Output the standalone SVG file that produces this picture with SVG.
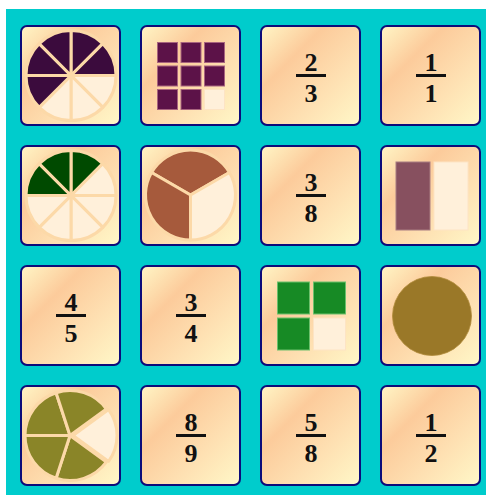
<svg xmlns="http://www.w3.org/2000/svg" width="486" height="495" viewBox="0 0 486 495">
<defs>
<linearGradient id="cardg" x1="0" y1="0" x2="1" y2="1">
<stop offset="0" stop-color="#fff6c6"/>
<stop offset="0.32" stop-color="#fccb9b"/>
<stop offset="0.65" stop-color="#fee0b2"/>
<stop offset="1" stop-color="#fff8c8"/>
</linearGradient>
<style>
.card{fill:url(#cardg);stroke:#0c0c7a;stroke-width:2}
.num{font-family:"Liberation Serif","Times New Roman",serif;font-weight:bold;font-size:26px;fill:#111;text-anchor:middle}
.bar{fill:#111}
.sec{stroke:#fcd9a8;stroke-width:3;stroke-linejoin:round}
.lt{fill:#fff0da}
.pu{fill:#3b0b3d}
.gr{fill:#004a00}
.br{fill:#a65a3c}
.ol{fill:#8a8528}
.sq{fill:#5c1248;stroke:#a8647e;stroke-width:1}
.gsq{fill:#178a25;stroke:#6cc06c;stroke-width:1}
.lsq{fill:#fff0da;stroke:#fde4c4;stroke-width:1}
</style>
</defs>
<rect x="0" y="0" width="486" height="495" fill="#ffffff"/>
<rect x="6" y="9" width="480" height="486" fill="#00cccc"/>

<g id="card-1-1">
<rect class="card" x="21" y="26" width="99" height="99" rx="6"/>
<g transform="translate(71,75.5)">
<path class="sec pu" d="M0 0L0 -45A45 45 0 0 1 31.82 -31.82Z"/>
<path class="sec pu" d="M0 0L31.82 -31.82A45 45 0 0 1 45 0Z"/>
<path class="sec lt" d="M0 0L45 0A45 45 0 0 1 31.82 31.82Z"/>
<path class="sec lt" d="M0 0L31.82 31.82A45 45 0 0 1 0 45Z"/>
<path class="sec lt" d="M0 0L0 45A45 45 0 0 1 -31.82 31.82Z"/>
<path class="sec pu" d="M0 0L-31.82 31.82A45 45 0 0 1 -45 0Z"/>
<path class="sec pu" d="M0 0L-45 0A45 45 0 0 1 -31.82 -31.82Z"/>
<path class="sec pu" d="M0 0L-31.82 -31.82A45 45 0 0 1 0 -45Z"/>
</g>
</g>

<g id="card-1-2">
<rect class="card" x="141" y="26" width="99" height="99" rx="6"/>
<rect class="sq" x="157.5" y="42.5" width="20" height="20"/>
<rect class="sq" x="181" y="42.5" width="20" height="20"/>
<rect class="sq" x="204.5" y="42.5" width="20" height="20"/>
<rect class="sq" x="157.5" y="66" width="20" height="20"/>
<rect class="sq" x="181" y="66" width="20" height="20"/>
<rect class="sq" x="204.5" y="66" width="20" height="20"/>
<rect class="sq" x="157.5" y="89.5" width="20" height="20"/>
<rect class="sq" x="181" y="89.5" width="20" height="20"/>
<rect class="lsq" x="204.5" y="89.5" width="20" height="20"/>
</g>

<g id="card-1-3">
<rect class="card" x="261" y="26" width="99" height="99" rx="6"/>
<text class="num" x="311" y="71">2</text>
<rect class="bar" x="296" y="74" width="30" height="3"/>
<text class="num" x="311" y="101.5">3</text>
</g>

<g id="card-1-4">
<rect class="card" x="381" y="26" width="99" height="99" rx="6"/>
<text class="num" x="431" y="71">1</text>
<rect class="bar" x="416" y="74" width="30" height="3"/>
<text class="num" x="431" y="101.5">1</text>
</g>

<g id="card-2-1">
<rect class="card" x="21" y="146" width="99" height="99" rx="6"/>
<g transform="translate(71,195.5)">
<path class="sec gr" d="M0 0L0 -45A45 45 0 0 1 31.82 -31.82Z"/>
<path class="sec lt" d="M0 0L31.82 -31.82A45 45 0 0 1 45 0Z"/>
<path class="sec lt" d="M0 0L45 0A45 45 0 0 1 31.82 31.82Z"/>
<path class="sec lt" d="M0 0L31.82 31.82A45 45 0 0 1 0 45Z"/>
<path class="sec lt" d="M0 0L0 45A45 45 0 0 1 -31.82 31.82Z"/>
<path class="sec lt" d="M0 0L-31.82 31.82A45 45 0 0 1 -45 0Z"/>
<path class="sec gr" d="M0 0L-45 0A45 45 0 0 1 -31.82 -31.82Z"/>
<path class="sec gr" d="M0 0L-31.82 -31.82A45 45 0 0 1 0 -45Z"/>
</g>
</g>

<g id="card-2-2">
<rect class="card" x="141" y="146" width="99" height="99" rx="6"/>
<g transform="translate(190.5,195)">
<path class="sec br" d="M0 0L-38.97 -22.5A45 45 0 0 1 38.97 -22.5Z"/>
<path class="sec lt" d="M0 0L38.97 -22.5A45 45 0 0 1 0 45Z"/>
<path class="sec br" d="M0 0L0 45A45 45 0 0 1 -38.97 -22.5Z"/>
</g>
</g>

<g id="card-2-3">
<rect class="card" x="261" y="146" width="99" height="99" rx="6"/>
<text class="num" x="311" y="191">3</text>
<rect class="bar" x="296" y="194" width="30" height="3"/>
<text class="num" x="311" y="221.5">8</text>
</g>

<g id="card-2-4">
<rect class="card" x="381" y="146" width="99" height="99" rx="6"/>
<rect x="396" y="162" width="34" height="68" fill="#87505f" stroke="#a87c82" stroke-width="1"/>
<rect class="lsq" x="434" y="162" width="34" height="68"/>
</g>

<g id="card-3-1">
<rect class="card" x="21" y="266" width="99" height="99" rx="6"/>
<text class="num" x="71" y="311">4</text>
<rect class="bar" x="56" y="314" width="30" height="3"/>
<text class="num" x="71" y="341.5">5</text>
</g>

<g id="card-3-2">
<rect class="card" x="141" y="266" width="99" height="99" rx="6"/>
<text class="num" x="191" y="311">3</text>
<rect class="bar" x="176" y="314" width="30" height="3"/>
<text class="num" x="191" y="341.5">4</text>
</g>

<g id="card-3-3">
<rect class="card" x="261" y="266" width="99" height="99" rx="6"/>
<rect class="gsq" x="277.5" y="282" width="32" height="32"/>
<rect class="gsq" x="313.5" y="282" width="32" height="32"/>
<rect class="gsq" x="277.5" y="318" width="32" height="32"/>
<rect class="lsq" x="313.5" y="318" width="32" height="32"/>
</g>

<g id="card-3-4">
<rect class="card" x="381" y="266" width="99" height="99" rx="6"/>
<circle cx="432" cy="316" r="39.5" fill="#9a7828" stroke="#b08a3a" stroke-width="0.8"/>
</g>

<g id="card-4-1">
<rect class="card" x="21" y="386" width="99" height="99" rx="6"/>
<g transform="translate(70,435.5)">
<path class="sec lt" transform="translate(3,0)" d="M0 0L35.6 -25.86A44 44 0 0 1 35.6 25.86Z"/>
<path class="sec ol" d="M0 0L36.41 26.45A45 45 0 0 1 -13.91 42.8Z"/>
<path class="sec ol" d="M0 0L-13.91 42.8A45 45 0 0 1 -45 0Z"/>
<path class="sec ol" d="M0 0L-45 0A45 45 0 0 1 -13.91 -42.8Z"/>
<path class="sec ol" d="M0 0L-13.91 -42.8A45 45 0 0 1 36.41 -26.45Z"/>
</g>
</g>

<g id="card-4-2">
<rect class="card" x="141" y="386" width="99" height="99" rx="6"/>
<text class="num" x="191" y="431">8</text>
<rect class="bar" x="176" y="434" width="30" height="3"/>
<text class="num" x="191" y="461.5">9</text>
</g>

<g id="card-4-3">
<rect class="card" x="261" y="386" width="99" height="99" rx="6"/>
<text class="num" x="311" y="431">5</text>
<rect class="bar" x="296" y="434" width="30" height="3"/>
<text class="num" x="311" y="461.5">8</text>
</g>

<g id="card-4-4">
<rect class="card" x="381" y="386" width="99" height="99" rx="6"/>
<text class="num" x="431" y="431">1</text>
<rect class="bar" x="416" y="434" width="30" height="3"/>
<text class="num" x="431" y="461.5">2</text>
</g>

<g id="connectors"/>
</svg>
